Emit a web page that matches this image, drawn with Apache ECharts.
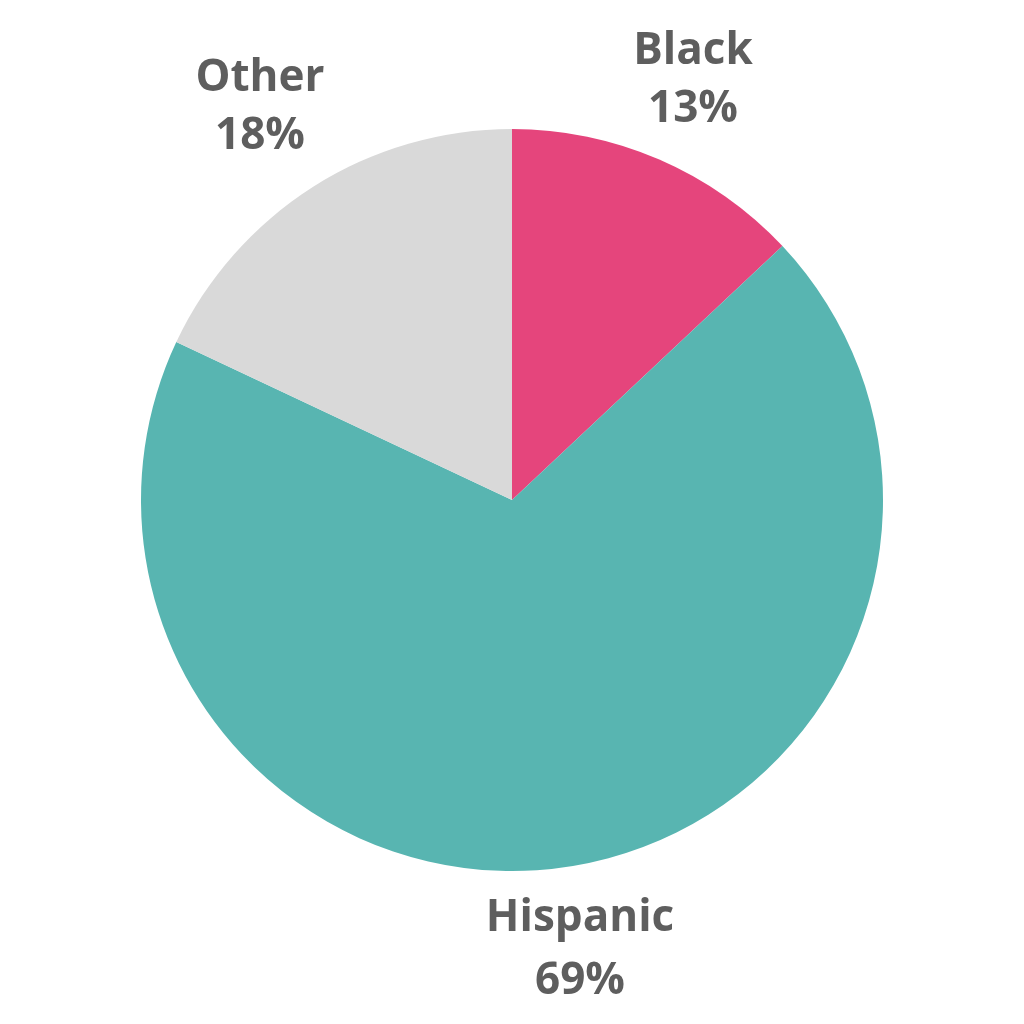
<!DOCTYPE html>
<html><head><meta charset="utf-8">
<script src="https://cdn.jsdelivr.net/npm/echarts@6/dist/echarts.min.js"></script>
<style>html,body{margin:0;padding:0;background:#fff}#c{width:1024px;height:1024px}</style>
</head><body><div id="c"></div>
<script>
const categories = ["Black", "Hispanic", "Other"];
const values = [13, 69, 18];
const colors = ["#E5457C", "#58B5B1", "#D9D9D9"];
// label anchor positions (style, not data)
const labelPos = [[693, 80], [580, 950], [260, 107]];
const lineHeights = [58, 63, 58];

const chart = echarts.init(document.getElementById('c'));
chart.setOption({
  animation: false,
  series: [{
    type: 'pie',
    center: [512, 500],
    radius: [0, 371],
    startAngle: 90,
    clockwise: true,
    data: categories.map((n, i) => ({
      name: n, value: values[i],
      itemStyle: { color: colors[i] },
      label: { lineHeight: lineHeights[i] }
    })),
    itemStyle: { borderWidth: 0 },
    emphasis: { disabled: true },
    label: {
      show: true,
      position: 'outside',
      formatter: p => p.name + '\n' + p.value + '%',
      fontFamily: 'Open Sans',
      fontWeight: 'bold',
      fontSize: 44,
      color: '#5E5E5E',
      align: 'center',
      verticalAlign: 'middle'
    },
    labelLine: { show: false },
    labelLayout: p => ({
      x: labelPos[p.dataIndex][0],
      y: labelPos[p.dataIndex][1],
      align: 'center',
      verticalAlign: 'middle'
    })
  }]
});
</script></body></html>
